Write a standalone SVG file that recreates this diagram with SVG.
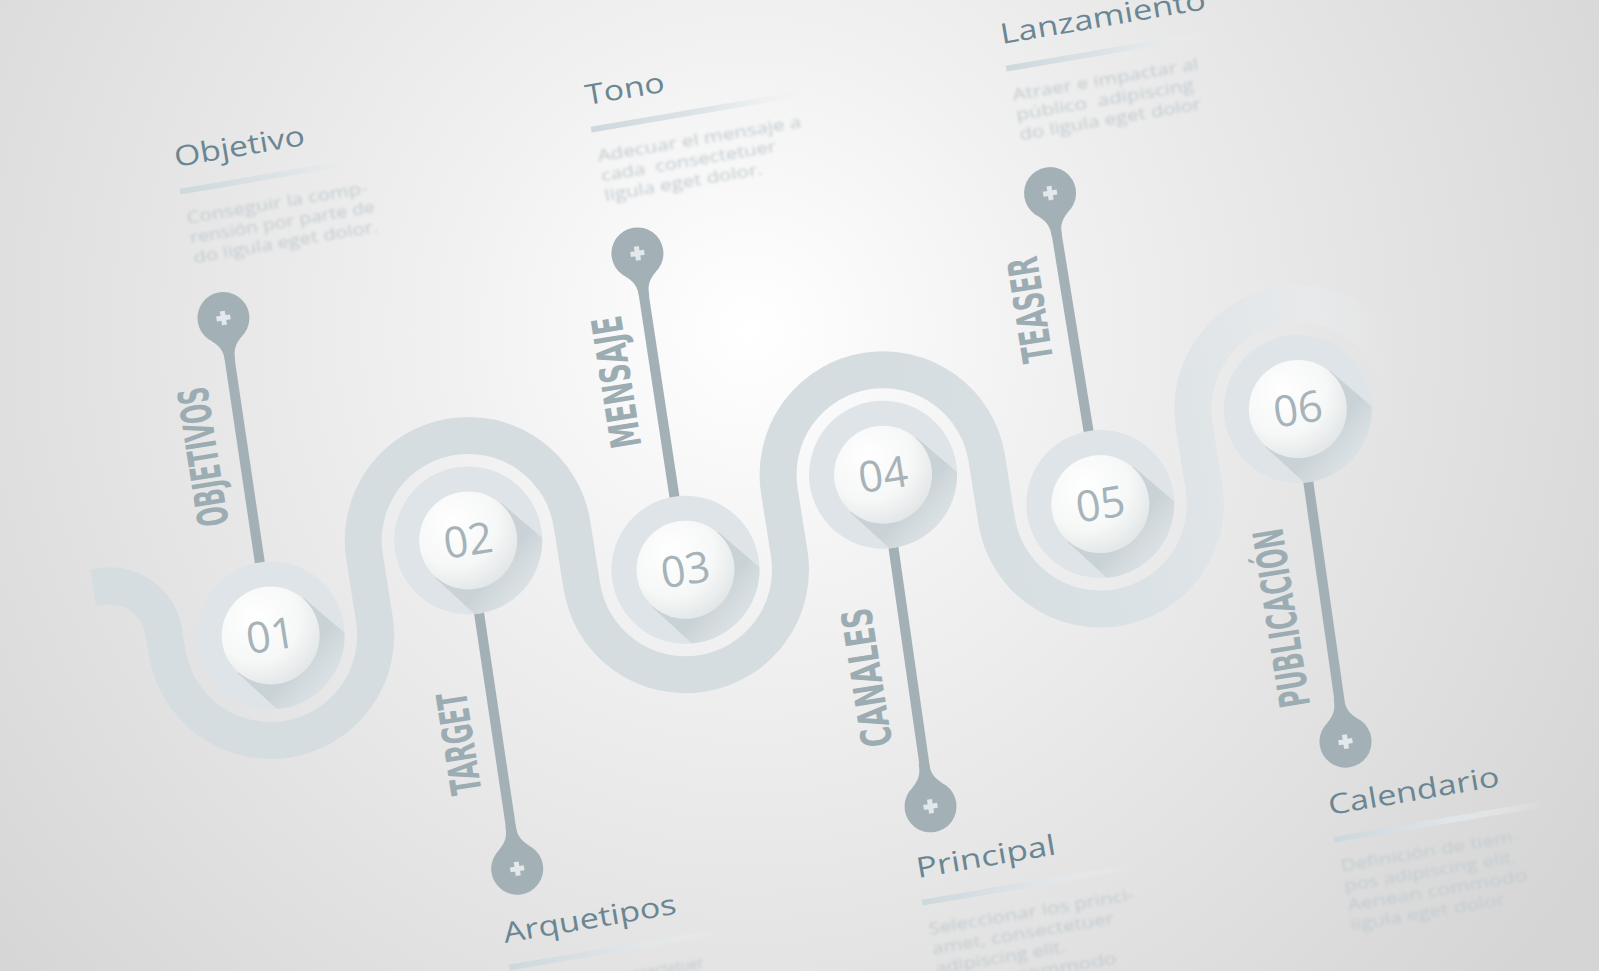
<svg xmlns="http://www.w3.org/2000/svg" xmlns:xlink="http://www.w3.org/1999/xlink" width="1599" height="971" viewBox="0 0 1599 971">
<defs>
<style>
.title{font-family:"Open Sans","Liberation Sans",sans-serif;font-size:28px;fill:#6b8693;}
.body{font-family:"Open Sans","Liberation Sans",sans-serif;font-size:17px;fill:#c2cacf;}
.vlab{font-family:"Liberation Sans Narrow","DejaVu Sans Condensed","Liberation Sans",sans-serif;font-weight:bold;font-size:42px;fill:#9cacb3;}
.num{font-family:"Open Sans","Liberation Sans",sans-serif;font-weight:400;font-size:43px;fill:#a6b3b9;}
.halo{fill:#dee4e7;}
.stick{stroke:#a3b1b7;stroke-width:10;fill:none;}
</style>
<radialGradient id="bg" cx="750" cy="330" r="1000" gradientUnits="userSpaceOnUse">
<stop offset="0" stop-color="#ffffff"/>
<stop offset="0.3" stop-color="#f1f1f1"/>
<stop offset="0.65" stop-color="#e3e3e3"/>
<stop offset="1" stop-color="#d5d5d5"/>
</radialGradient>
<linearGradient id="band" x1="900" y1="0" x2="1405" y2="0" gradientUnits="userSpaceOnUse">
<stop offset="0" stop-color="#d5dde1"/>
<stop offset="0.45" stop-color="#dbe2e5"/>
<stop offset="0.72" stop-color="#e3e7e9"/>
<stop offset="0.86" stop-color="#e7eaec" stop-opacity="0.7"/>
<stop offset="1" stop-color="#eaeced" stop-opacity="0"/>
</linearGradient>
<radialGradient id="ball" cx="0.38" cy="0.3" r="0.75">
<stop offset="0" stop-color="#ffffff"/>
<stop offset="0.6" stop-color="#f6f7f7"/>
<stop offset="1" stop-color="#e1e5e6"/>
</radialGradient>
<linearGradient id="shadow" x1="0" y1="0" x2="64" y2="76" gradientUnits="userSpaceOnUse">
<stop offset="0.4" stop-color="#c9d2d6"/>
<stop offset="1" stop-color="#dee4e7" stop-opacity="0"/>
</linearGradient>
<linearGradient id="bar" x1="0" y1="0" x2="1" y2="0">
<stop offset="0" stop-color="#cdd8dd"/>
<stop offset="0.55" stop-color="#dfe5e8"/>
<stop offset="1" stop-color="#eef0f1" stop-opacity="0"/>
</linearGradient>
<clipPath id="haloClip"><circle r="74"/></clipPath>
<filter id="blur" x="-10%" y="-50%" width="120%" height="200%"><feGaussianBlur stdDeviation="1.7"/></filter>
<g id="knob">
<circle r="26" fill="#a3b1b7"/>
<path d="M -15.3 21 C -8 28 -5 32 -5 44 L 5 44 C 5 32 8 28 15.3 21 Z" fill="#a3b1b7"/>
<path d="M -7 -2.5 h14 v5 h-14z M -2.5 -7 h5 v14 h-5z" fill="#e3e8ea"/>
</g>
<g id="ballShape">
<circle class="halo" r="74"/>
<path d="M 38.3 -32.1 L 110 52 L 30 118 L -38.3 32.1 Z" fill="url(#shadow)" clip-path="url(#haloClip)"/>
<circle r="49" fill="url(#ball)"/>
</g>
</defs>

<rect x="0" y="0" width="1599" height="971" fill="url(#bg)"/>

<g transform="rotate(-9 800 500)">
<g id="connectors">
<path id="wave" d="M 88 476 L 96 476 A 55 55 0 0 1 151 531 L 151 551 A 105 105 0 0 0 361 551 L 361 488 A 105 105 0 0 1 571 488 L 571 551 A 105 105 0 0 0 781 551 L 781 488 A 105 105 0 0 1 991 488 L 991 551 A 105 105 0 0 0 1201 551 L 1201 488 A 105 105 0 0 1 1411 488 L 1411 515" fill="none" stroke="url(#band)" stroke-width="37"/>
<line class="stick" x1="259" y1="240" x2="256" y2="551"/>
<line class="stick" x1="463" y1="810" x2="466" y2="488"/>
<line class="stick" x1="678" y1="240" x2="676" y2="551"/>
<line class="stick" x1="881" y1="813" x2="886" y2="488"/>
<line class="stick" x1="1095" y1="246" x2="1096" y2="551"/>
<line class="stick" x1="1301" y1="814" x2="1306" y2="488"/>
<use href="#knob" transform="translate(259,230)"/>
<use href="#knob" transform="translate(463,820) rotate(180)"/>
<use href="#knob" transform="translate(678,231)"/>
<use href="#knob" transform="translate(881,823) rotate(180)"/>
<use href="#knob" transform="translate(1095,236)"/>
<use href="#knob" transform="translate(1301,824) rotate(180)"/>
</g>

<g id="node-01" transform="translate(256,551)">
<use href="#ballShape"/>
<text class="num" x="0" y="15" text-anchor="middle">01</text>
</g>
<g id="node-02" transform="translate(466,488)">
<use href="#ballShape"/>
<text class="num" x="0" y="15" text-anchor="middle">02</text>
</g>
<g id="node-03" transform="translate(676,551)">
<use href="#ballShape"/>
<text class="num" x="0" y="15" text-anchor="middle">03</text>
</g>
<g id="node-04" transform="translate(886,488)">
<use href="#ballShape"/>
<text class="num" x="0" y="15" text-anchor="middle">04</text>
</g>
<g id="node-05" transform="translate(1096,551)">
<use href="#ballShape"/>
<text class="num" x="0" y="15" text-anchor="middle">05</text>
</g>
<g id="node-06" transform="translate(1306,488)">
<use href="#ballShape"/>
<text class="num" x="0" y="15" text-anchor="middle">06</text>
</g>

<g id="labels">
<text class="vlab" transform="translate(232,364) rotate(-90)" text-anchor="middle" textLength="140" lengthAdjust="spacingAndGlyphs">OBJETIVOS</text>
<text class="vlab" transform="translate(652,355) rotate(-90)" text-anchor="middle" textLength="133" lengthAdjust="spacingAndGlyphs">MENSAJE</text>
<text class="vlab" transform="translate(1072,348) rotate(-90)" text-anchor="middle" textLength="106" lengthAdjust="spacingAndGlyphs">TEASER</text>
<text class="vlab" transform="translate(440,687) rotate(-90)" text-anchor="middle" textLength="103" lengthAdjust="spacingAndGlyphs">TARGET</text>
<text class="vlab" transform="translate(853,686) rotate(-90)" text-anchor="middle" textLength="140" lengthAdjust="spacingAndGlyphs">CANALES</text>
<text class="vlab" transform="translate(1272,692) rotate(-90)" text-anchor="middle" textLength="180" lengthAdjust="spacingAndGlyphs">PUBLICACIÓN</text>
</g>
</g>

<g id="block-objetivo" transform="translate(176,167) rotate(-9.7)">
<text class="title" x="0" y="0" textLength="132" lengthAdjust="spacingAndGlyphs">Objetivo</text>
<rect x="0" y="22" width="210" height="6" fill="url(#bar)"/>
<g filter="url(#blur)">
<text class="body" x="2" y="58" textLength="183" lengthAdjust="spacingAndGlyphs">Conseguir la comp-</text>
<text class="body" x="2" y="78" textLength="187" lengthAdjust="spacingAndGlyphs">rensión por parte de</text>
<text class="body" x="2" y="98" textLength="187" lengthAdjust="spacingAndGlyphs">do ligula eget dolor.</text>
</g>
</g>

<g id="block-tono" transform="translate(587,105) rotate(-9.7)">
<text class="title" x="0" y="0" textLength="80" lengthAdjust="spacingAndGlyphs">Tono</text>
<rect x="0" y="22" width="220" height="6" fill="url(#bar)"/>
<g filter="url(#blur)">
<text class="body" x="2" y="58" textLength="206" lengthAdjust="spacingAndGlyphs">Adecuar el mensaje a</text>
<text class="body" x="2" y="78" textLength="177" lengthAdjust="spacingAndGlyphs">cada&#160; consectetuer</text>
<text class="body" x="2" y="98" textLength="160" lengthAdjust="spacingAndGlyphs">ligula eget dolor.</text>
</g>
</g>

<g id="block-lanzamiento" transform="translate(1002,44) rotate(-9.7)">
<text class="title" x="0" y="0" textLength="208" lengthAdjust="spacingAndGlyphs">Lanzamiento</text>
<rect x="0" y="22" width="215" height="6" fill="url(#bar)"/>
<g filter="url(#blur)">
<text class="body" x="2" y="58" textLength="188" lengthAdjust="spacingAndGlyphs">Atraer e impactar al</text>
<text class="body" x="2" y="78" textLength="180" lengthAdjust="spacingAndGlyphs">público&#160; adipiscing</text>
<text class="body" x="2" y="98" textLength="184" lengthAdjust="spacingAndGlyphs">do ligula eget dolor</text>
</g>
</g>

<g id="block-arquetipos" transform="translate(505,943) rotate(-9.7)">
<text class="title" x="0" y="0" textLength="175" lengthAdjust="spacingAndGlyphs">Arquetipos</text>
<rect x="0" y="22" width="215" height="6" fill="url(#bar)"/>
<g filter="url(#blur)">
<text class="body" x="2" y="58" textLength="190" lengthAdjust="spacingAndGlyphs">Definir el perfil consectetuer</text>
</g>
</g>

<g id="block-principal" transform="translate(918,878) rotate(-9.7)">
<text class="title" x="0" y="0" textLength="141" lengthAdjust="spacingAndGlyphs">Principal</text>
<rect x="0" y="22" width="215" height="6" fill="url(#bar)"/>
<g filter="url(#blur)">
<text class="body" x="2" y="58" textLength="208" lengthAdjust="spacingAndGlyphs">Seleccionar los princi-</text>
<text class="body" x="2" y="78" textLength="184" lengthAdjust="spacingAndGlyphs">amet, consectetuer</text>
<text class="body" x="2" y="98" textLength="132" lengthAdjust="spacingAndGlyphs">adipiscing elit.</text>
<text class="body" x="2" y="118" textLength="180" lengthAdjust="spacingAndGlyphs">Aenean commodo</text>
</g>
</g>

<g id="block-calendario" transform="translate(1330,815) rotate(-9.7)">
<text class="title" x="0" y="0" textLength="173" lengthAdjust="spacingAndGlyphs">Calendario</text>
<rect x="0" y="22" width="215" height="6" fill="url(#bar)"/>
<g filter="url(#blur)">
<text class="body" x="2" y="58" textLength="181" lengthAdjust="spacingAndGlyphs">Definición de tiem-</text>
<text class="body" x="2" y="78" textLength="175" lengthAdjust="spacingAndGlyphs">pos adipiscing elit.</text>
<text class="body" x="2" y="98" textLength="182" lengthAdjust="spacingAndGlyphs">Aenean commodo</text>
<text class="body" x="2" y="118" textLength="156" lengthAdjust="spacingAndGlyphs">ligula eget dolor</text>
</g>
</g>
</svg>
